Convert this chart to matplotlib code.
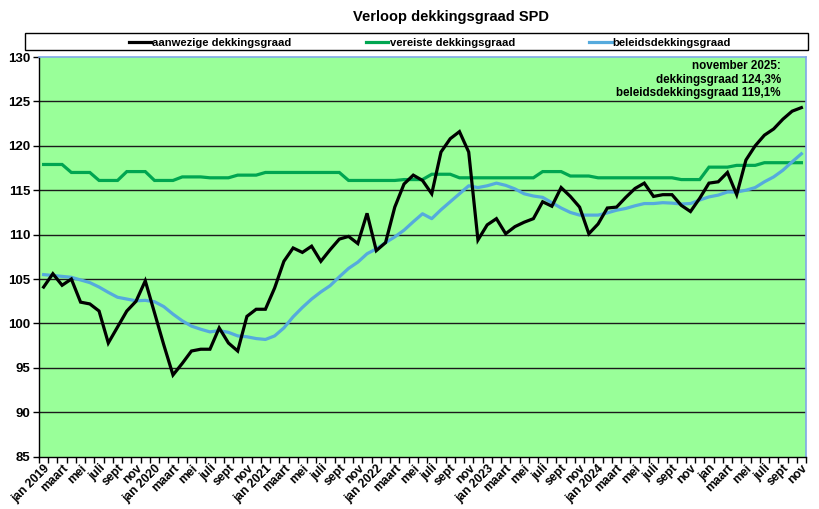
import matplotlib
matplotlib.use("Agg")
import matplotlib.pyplot as plt
from matplotlib.patches import Rectangle

plt.rcParams['font.family'] = ['Liberation Sans', 'DejaVu Sans']

title = "Verloop dekkingsgraad SPD"
series_names = ["aanwezige dekkingsgraad", "vereiste dekkingsgraad", "beleidsdekkingsgraad"]
annotation = "november 2025:\ndekkingsgraad 124,3%\nbeleidsdekkingsgraad 119,1%"

months = ["jan", "feb", "maart", "apr", "mei", "jun", "juli", "aug", "sept", "okt", "nov", "dec"]
years = [2019, 2020, 2021, 2022, 2023, 2024, 2025]

aanwezig = [104.1, 105.6, 104.3, 105.0, 102.4, 102.2, 101.4, 97.8, 99.6, 101.4, 102.5, 104.8,
            101.2, 97.6, 94.2, 95.5, 96.9, 97.1, 97.1, 99.5, 97.8, 96.9, 100.8, 101.6,
            101.6, 104.0, 107.0, 108.5, 108.0, 108.7, 107.0, 108.3, 109.5, 109.8, 109.0, 112.4,
            108.2, 109.1, 113.1, 115.7, 116.7, 116.1, 114.6, 119.3, 120.8, 121.6, 119.3, 109.4,
            111.1, 111.8, 110.1, 110.9, 111.4, 111.8, 113.7, 113.2, 115.3, 114.3, 113.1, 110.1,
            111.2, 113.0, 113.1, 114.2, 115.2, 115.8, 114.3, 114.5, 114.5, 113.3, 112.6, 114.1,
            115.8, 115.95, 117.0, 114.5, 118.4, 120.0, 121.2, 121.9, 123.0, 123.9, 124.3]

vereist = [117.9, 117.9, 117.9, 117.0, 117.0, 117.0, 116.1, 116.1, 116.1, 117.1, 117.1, 117.1,
           116.1, 116.1, 116.1, 116.5, 116.5, 116.5, 116.4, 116.4, 116.4, 116.7, 116.7, 116.7,
           117.0, 117.0, 117.0, 117.0, 117.0, 117.0, 117.0, 117.0, 117.0, 116.1, 116.1, 116.1,
           116.1, 116.1, 116.1, 116.2, 116.2, 116.2, 116.8, 116.8, 116.8, 116.4, 116.4, 116.4,
           116.4, 116.4, 116.4, 116.4, 116.4, 116.4, 117.1, 117.1, 117.1, 116.6, 116.6, 116.6,
           116.4, 116.4, 116.4, 116.4, 116.4, 116.4, 116.4, 116.4, 116.4, 116.2, 116.2, 116.2,
           117.6, 117.6, 117.6, 117.8, 117.8, 117.8, 118.1, 118.1, 118.1, 118.1, 118.1]

beleid = [105.5, 105.4, 105.3, 105.2, 104.9, 104.6, 104.1, 103.5, 102.95, 102.75, 102.55, 102.6,
          102.45, 101.9, 101.05, 100.3, 99.7, 99.35, 99.05, 99.2, 99.0, 98.6, 98.5, 98.3,
          98.2, 98.6, 99.5, 100.75, 101.8, 102.75, 103.55, 104.25, 105.25, 106.2, 106.9, 107.85,
          108.4, 109.1, 109.75, 110.5, 111.45, 112.35, 111.8, 112.8, 113.7, 114.6, 115.5, 115.3,
          115.5, 115.8, 115.55, 115.15, 114.6, 114.35, 114.2, 113.6, 113.0, 112.5, 112.2, 112.2,
          112.2, 112.45, 112.75, 112.95, 113.25, 113.5, 113.5, 113.6, 113.55, 113.45, 113.5, 113.9,
          114.25, 114.45, 114.8, 114.8, 115.0, 115.3, 115.95, 116.5, 117.25, 118.2, 119.1]

n = len(aanwezig)
x = list(range(n))

labels = []
label_pos = []
for i in range(0, n, 2):
    y = years[i // 12]
    m = months[i % 12]
    if m == "jan" and y != 2025:
        labels.append(f"jan {y}")
    else:
        labels.append(m)
    label_pos.append(i)

fig = plt.figure(figsize=(8.2, 5.09), dpi=100)
ax = fig.add_axes([39/820, 1-456.7/509, 767/820, 399.7/509])
ax.set_facecolor("#99FF99")

for yv in range(90, 130, 5):
    ax.axhline(yv, color="#1a1a1a", lw=1.0, zorder=1)

l2, = ax.plot(x, vereist, color="#00A651", lw=2.3, zorder=3, solid_joinstyle='miter')
l3, = ax.plot(x, beleid, color="#55AADD", lw=2.3, zorder=4)
l1, = ax.plot(x, aanwezig, color="#000000", lw=2.3, zorder=5, solid_joinstyle='miter')

ax.set_xlim(-0.5, n - 0.5)
ax.set_ylim(85, 130)
ax.set_yticks(range(85, 131, 5))
ax.set_yticklabels([str(v) for v in range(85, 131, 5)], fontsize=9.5, fontweight='bold')
ax.tick_params(axis='y', direction='out', length=4, width=1, pad=2)

ax.set_xticks([i - 0.5 for i in range(n + 1)])
ax.set_xticklabels([])
ax.tick_params(axis='x', which='major', direction='out', length=4, width=1)
ax.set_xticks(label_pos, minor=True)
ax.set_xticklabels(labels, minor=True, rotation=45, ha='right', va='top',
                   rotation_mode='anchor', fontsize=8.7, fontweight='bold')
ax.tick_params(axis='x', which='minor', length=0, pad=4)

for s in ['left', 'bottom']:
    ax.spines[s].set_color('black')
    ax.spines[s].set_linewidth(1.0)
for s in ['top', 'right']:
    ax.spines[s].set_color('#7FA8E8')
    ax.spines[s].set_linewidth(1.2)

ax.text(0.967, 0.992, annotation, transform=ax.transAxes, ha='right', va='top',
        fontsize=8.4, fontweight='bold', linespacing=1.15, zorder=6)

fig.text(451/820, 1-17/509, title, ha='center', va='center', fontsize=10.5,
         fontweight='bold')

fig.add_artist(Rectangle((25/820, 1-50/509), 783/820, 17/509, transform=fig.transFigure,
                         facecolor='white', edgecolor='black', lw=1.0))
leg = fig.legend([l1, l2, l3], series_names, loc='center',
                 bbox_to_anchor=(430/820, 1-43/509), ncol=3, frameon=False,
                 handlelength=2.0, handletextpad=0.1, columnspacing=6.6,
                 prop={'size': 8.1, 'weight': 'bold'}, borderpad=0, borderaxespad=0)

fig.savefig("out.png", dpi=100)
